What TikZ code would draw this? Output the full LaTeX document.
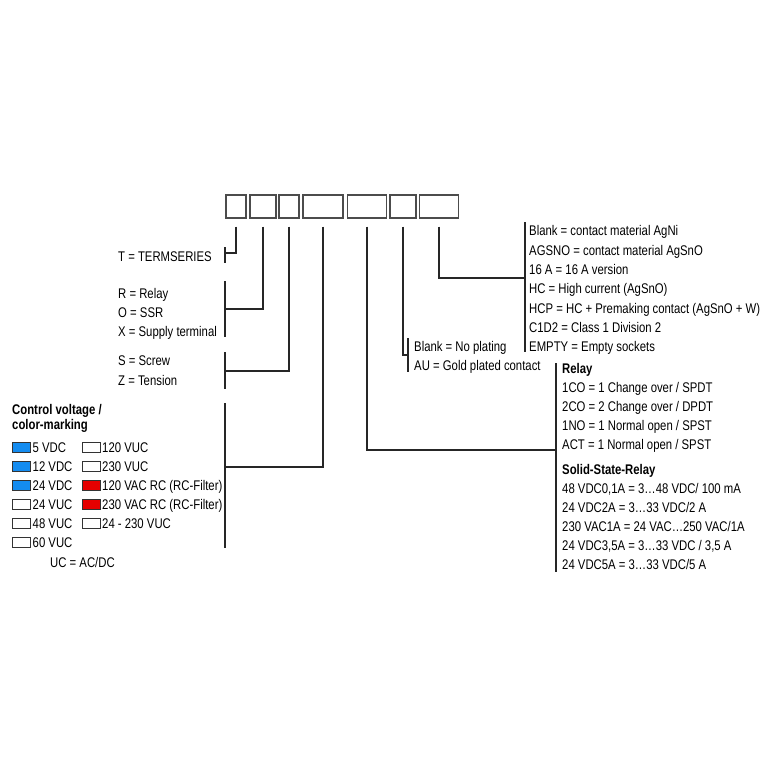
\documentclass[tikz,border=0pt]{standalone}
\usepackage{fontspec}
\setmainfont[FakeStretch=0.81]{Liberation Sans}
\definecolor{swblue}{RGB}{20,140,240}
\definecolor{swred}{RGB}{230,0,0}
\begin{document}
\begin{tikzpicture}[x=1pt,y=-1pt,
  code/.style={draw=black!70, line width=1.4pt, minimum height=23pt, inner sep=0pt},
  lbl/.style={anchor=west, inner sep=0pt, text height=10pt, text depth=0pt, font=\fontsize{14}{16}\selectfont},
  hd/.style={anchor=west, inner sep=0pt, text height=10pt, text depth=0pt, font=\fontsize{14}{16}\selectfont\bfseries},
  wire/.style={line width=1.3pt, draw=black!85},
  sw/.style={draw=black!80, line width=0.8pt, minimum width=18pt, minimum height=10pt, inner sep=0pt, anchor=west}]
\useasboundingbox[fill=white] (0,0) rectangle (768,768);

% code boxes
\node[code, minimum width=20pt] (b1) at (236,206.5) {};
\node[code, minimum width=26pt] (b2) at (263,206.5) {};
\node[code, minimum width=20pt] (b3) at (289,206.5) {};
\node[code, minimum width=40pt] (b4) at (323,206.5) {};
\node[code, minimum width=39pt] (b5) at (367,206.5) {};
\node[code, minimum width=26pt] (b6) at (403,206.5) {};
\node[code, minimum width=39pt] (b7) at (439,206.5) {};

% junction coordinates
\coordinate (k1) at (225,253);
\coordinate (k2) at (225,309);
\coordinate (k3) at (225,371);
\coordinate (k4) at (225,467);
\coordinate (k5) at (556,450);
\coordinate (k6) at (408,355);
\coordinate (k7) at (525,278);

% connectors
\draw[wire] ([yshift=-8pt]b1.south) |- (k1);
\draw[wire] ([yshift=-8pt]b2.south) |- (k2);
\draw[wire] ([yshift=-8pt]b3.south) |- (k3);
\draw[wire] ([yshift=-8pt]b4.south) |- (k4);
\draw[wire] ([yshift=-8pt]b5.south) |- (k5);
\draw[wire] ([yshift=-8pt]b6.south) |- (k6);
\draw[wire] ([yshift=-8pt]b7.south) |- (k7);

% brackets
\draw[wire] (225,247) -- (225,263);
\draw[wire] (225,281) -- (225,337);
\draw[wire] (225,352) -- (225,389);
\draw[wire] (225,403) -- (225,548);
\draw[wire] (556,363) -- (556,572);
\draw[wire] (408,338) -- (408,372);
\draw[wire] (525,222) -- (525,352);

% left labels
\node[lbl] (t1) at (118,256) {T = TERMSERIES};
\node[lbl] (t2) at (118,293) {R = Relay};
\node[lbl] (t3) at (118,312) {O = SSR};
\node[lbl] (t4) at (118,331) {X = Supply terminal};
\node[lbl] (t5) at (118,360) {S = Screw};
\node[lbl] (t6) at (118,380) {Z = Tension};

% control voltage
\node[hd] (cv1) at (12,409) {Control voltage /};
\node[hd] (cv2) at (12,424) {color-marking};

\node[sw, fill=swblue] (s1) at (12,447) {};
\node[sw, fill=swblue] (s2) at (12,466) {};
\node[sw, fill=swblue] (s3) at (12,485) {};
\node[sw, fill=white] (s4) at (12,504) {};
\node[sw, fill=white] (s5) at (12,523) {};
\node[sw, fill=white] (s6) at (12,542) {};
\node[lbl] (v1) at (32.5,447) {5 VDC};
\node[lbl] (v2) at (32.5,466) {12 VDC};
\node[lbl] (v3) at (32.5,485) {24 VDC};
\node[lbl] (v4) at (32.5,504) {24 VUC};
\node[lbl] (v5) at (32.5,523) {48 VUC};
\node[lbl] (v6) at (32.5,542) {60 VUC};

\node[sw, fill=white] (s7) at (82,447) {};
\node[sw, fill=white] (s8) at (82,466) {};
\node[sw, fill=swred] (s9) at (82,485) {};
\node[sw, fill=swred] (s10) at (82,504) {};
\node[sw, fill=white] (s11) at (82,523) {};
\node[lbl] (v7) at (102,447) {120 VUC};
\node[lbl] (v8) at (102,466) {230 VUC};
\node[lbl] (v9) at (102,485) {120 VAC RC (RC-Filter)};
\node[lbl] (v10) at (102,504) {230 VAC RC (RC-Filter)};
\node[lbl] (v11) at (102,523) {24 - 230 VUC};
\node[lbl] (uc) at (50,562) {UC = AC/DC};

% contact material
\node[lbl] (m1) at (529,230) {Blank = contact material AgNi};
\node[lbl] (m2) at (529,250) {AGSNO = contact material AgSnO};
\node[lbl] (m3) at (529,269) {16 A = 16 A version};
\node[lbl] (m4) at (529,288) {HC = High current (AgSnO)};
\node[lbl] (m5) at (529,308) {HCP = HC + Premaking contact (AgSnO + W)};
\node[lbl] (m6) at (529,327) {C1D2 = Class 1 Division 2};
\node[lbl] (m7) at (529,346) {EMPTY = Empty sockets};

% plating
\node[lbl] (p1) at (414,346) {Blank = No plating};
\node[lbl] (p2) at (414,365) {AU = Gold plated contact};

% relay types
\node[hd] (r0) at (562,368) {Relay};
\node[lbl] (r1) at (562,387) {1CO = 1 Change over / SPDT};
\node[lbl] (r2) at (562,406) {2CO = 2 Change over / DPDT};
\node[lbl] (r3) at (562,425) {1NO = 1 Normal open / SPST};
\node[lbl] (r4) at (562,444) {ACT = 1 Normal open / SPST};
\node[hd] (q0) at (562,469) {Solid-State-Relay};
\node[lbl] (q1) at (562,488) {48 VDC0,1A = 3…48 VDC/ 100 mA};
\node[lbl] (q2) at (562,507) {24 VDC2A = 3…33 VDC/2 A};
\node[lbl] (q3) at (562,526) {230 VAC1A = 24 VAC…250 VAC/1A};
\node[lbl] (q4) at (562,545) {24 VDC3,5A = 3…33 VDC / 3,5 A};
\node[lbl] (q5) at (562,564) {24 VDC5A = 3…33 VDC/5 A};
\end{tikzpicture}
\end{document}
